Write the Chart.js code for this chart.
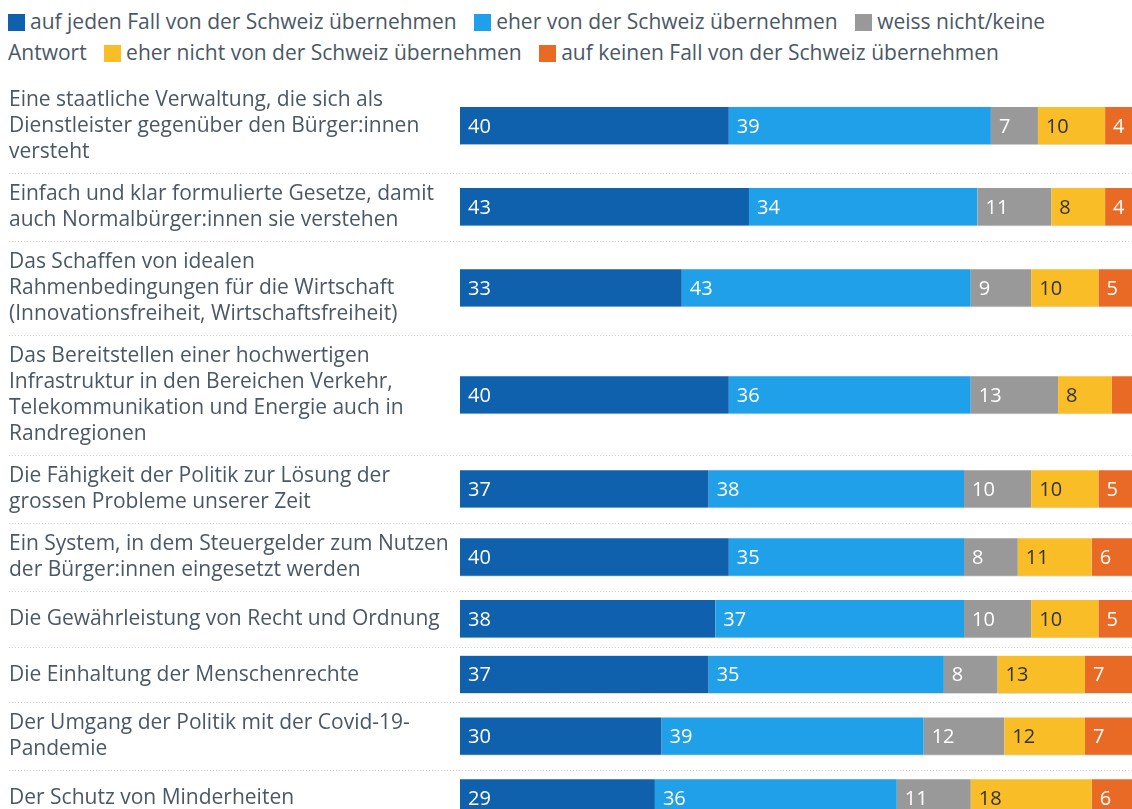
<!DOCTYPE html>
<html>
<head>
<meta charset="utf-8">
<script src="https://cdn.jsdelivr.net/npm/chart.js@4.4.1/dist/chart.umd.min.js"></script>
<style>
  html, body { margin: 0; padding: 0; background: #fff; overflow: hidden; width: 1132px; height: 809px; }
  #legend { position: absolute; left: 8px; top: 6px; width: 1075px; font-family: 'Open Sans', sans-serif; font-size: 21px; line-height: 31px; color: #4a5866; }
  #legend .item { margin-right: 12px; }
  #legend i { display: inline-block; width: 17px; height: 17px; vertical-align: -2px; margin-right: 5px; }
  #chart { position: absolute; left: 0; top: 79px; }
</style>
</head>
<body>
<div id="legend"></div>
<canvas id="chart" width="1132" height="750"></canvas>
<script>
// Wie sollte die Schweiz diese Eigenschaften übernehmen? (Angaben in %)

const categories = [
    ['Eine staatliche Verwaltung, die sich als', 'Dienstleister gegenüber den Bürger:innen', 'versteht'],
    ['Einfach und klar formulierte Gesetze, damit', 'auch Normalbürger:innen sie verstehen'],
    ['Das Schaffen von idealen', 'Rahmenbedingungen für die Wirtschaft', '(Innovationsfreiheit, Wirtschaftsfreiheit)'],
    ['Das Bereitstellen einer hochwertigen', 'Infrastruktur in den Bereichen Verkehr,', 'Telekommunikation und Energie auch in', 'Randregionen'],
    ['Die Fähigkeit der Politik zur Lösung der', 'grossen Probleme unserer Zeit'],
    ['Ein System, in dem Steuergelder zum Nutzen', 'der Bürger:innen eingesetzt werden'],
    ['Die Gewährleistung von Recht und Ordnung'],
    ['Die Einhaltung der Menschenrechte'],
    ['Der Umgang der Politik mit der Covid-19-', 'Pandemie'],
    ['Der Schutz von Minderheiten']
];

const seriesNames = [
    'auf jeden Fall von der Schweiz übernehmen',
    'eher von der Schweiz übernehmen',
    'weiss nicht/keine Antwort',
    'eher nicht von der Schweiz übernehmen',
    'auf keinen Fall von der Schweiz übernehmen'
];

const jedenFall  = [40, 43, 33, 40, 37, 40, 38, 37, 30, 29];
const eherJa     = [39, 34, 43, 36, 38, 35, 37, 35, 39, 36];
const weissNicht = [7, 11, 9, 13, 10, 8, 10, 8, 12, 11];
const eherNicht  = [10, 8, 10, 8, 10, 11, 10, 13, 12, 18];
const keinenFall = [4, 4, 5, 3, 5, 6, 5, 7, 7, 6];

const colors = ['#0f61ae', '#20a0e8', '#999999', '#f9bd28', '#e96a24'];
const textColors = ['#fff', '#fff', '#fff', '#333', '#fff'];

const FONT = "'Open Sans', sans-serif";
const LINE_H = 26;
const BAR_H = 38;

// rows are as tall as their label, so the index axis is linear
const rowHeights = categories.map(c => Math.max(BAR_H + 17.5, c.length * LINE_H + 16));
const rowCenters = [];
const rowEdges = [];
let acc = 0;
rowHeights.forEach(h => {
    rowCenters.push(acc + h / 2);
    acc += h;
    rowEdges.push(acc);
});
const totalHeight = acc;

// one scale unit = one pixel
const canvas = document.getElementById('chart');
canvas.height = Math.round(totalHeight);

// legend (html so the text wraps like the original)
document.getElementById('legend').innerHTML = seriesNames.map((n, i) =>
    '<span class="item"><i style="background:' + colors[i] + '"></i>' + n + '</span>'
).join(' ');

const separators = {
    id: 'separators',
    beforeDatasetsDraw(chart) {
        const ctx = chart.ctx;
        const y = chart.scales.y;
        ctx.save();
        ctx.strokeStyle = '#cfcfcf';
        ctx.lineWidth = 1;
        ctx.setLineDash([1, 2]);
        rowEdges.slice(0, -1).forEach(e => {
            const py = Math.round(y.getPixelForValue(e)) + 0.5;
            ctx.beginPath();
            ctx.moveTo(9, py);
            ctx.lineTo(chart.width, py);
            ctx.stroke();
        });
        ctx.restore();
    }
};

const barLabels = {
    id: 'barLabels',
    afterDatasetsDraw(chart) {
        const ctx = chart.ctx;
        ctx.save();
        ctx.font = '20px ' + FONT;
        ctx.textBaseline = 'middle';
        ctx.textAlign = 'left';
        chart.data.datasets.forEach((ds, i) => {
            chart.getDatasetMeta(i).data.forEach((bar, j) => {
                const v = ds.data[j];
                if (v < 4) return;
                ctx.fillStyle = textColors[i];
                ctx.fillText(v, Math.min(bar.x, bar.base) + 8, bar.y + 1);
            });
        });
        ctx.restore();
    }
};

const seriesData = [jedenFall, eherJa, weissNicht, eherNicht, keinenFall];

const chart = new Chart(canvas, {
    type: 'bar',
    data: {
        labels: rowCenters,
        datasets: seriesData.map((d, i) => ({
            label: seriesNames[i],
            data: d,
            backgroundColor: colors[i],
            borderColor: '#dcdcdc',
            borderWidth: { top: 0, bottom: 1, left: 0, right: 0 },
            borderSkipped: false,
            barThickness: BAR_H
        }))
    },
    options: {
        indexAxis: 'y',
        responsive: false,
        animation: false,
        layout: { padding: { left: 9, right: 0, top: 0, bottom: 0 } },
        plugins: {
            legend: { display: false },
            tooltip: { enabled: false }
        },
        scales: {
            x: {
                stacked: true,
                min: 0,
                max: 100,
                display: false
            },
            y: {
                type: 'linear',
                stacked: true,
                reverse: true,
                offset: false,
                min: 0,
                max: totalHeight,
                grid: { display: false, offset: false },
                border: { display: false },
                afterBuildTicks: scale => {
                    scale.ticks = rowCenters.map(v => ({ value: v }));
                },
                afterFit: scale => {
                    scale.width = 451;
                    scale.paddingTop = 0;
                    scale.paddingBottom = 0;
                },
                ticks: {
                    autoSkip: false,
                    crossAlign: 'far',
                    color: '#4a5866',
                    font: { family: FONT, size: 21, lineHeight: LINE_H + 'px' },
                    callback: (v, i) => categories[i]
                }
            }
        }
    },
    plugins: [separators, barLabels]
});
</script>
</body>
</html>
